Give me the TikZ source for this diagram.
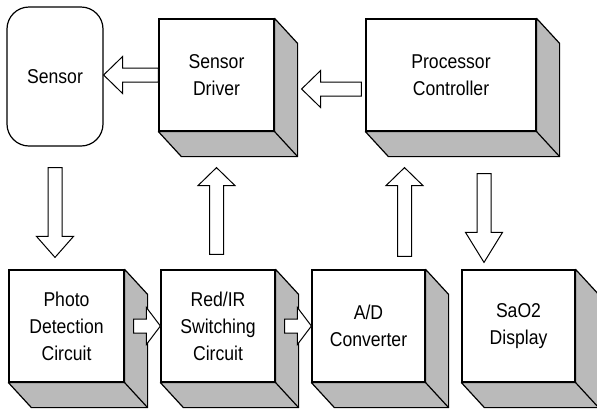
\documentclass[tikz,border=0pt]{standalone}
\usepackage{fontspec}
\setmainfont{Liberation Sans}[FakeStretch=0.88]
\usetikzlibrary{calc,positioning}

\tikzset{
  blk/.style={draw, fill=white, line width=1.2bp, align=center, inner sep=0pt,
    minimum height=112bp, font=\fontsize{20bp}{27bp}\selectfont},
  face/.style={draw, fill=black!27, line width=1.2bp, line join=round},
  hollow/.style={draw, fill=white, line width=1bp, line join=miter},
}
% hollow block arrow: \blockarrow[head length]{tail}{tip}
\newcommand{\blockarrow}[3][18bp]{%
  \path ($(#3)!#1!(#2)$) coordinate (hb);
  \draw[hollow] ($(#2)!7bp!90:(#3)$) -- ($(hb)!7bp!-90:(#2)$)
    -- ($(hb)!18.5bp!-90:(#2)$) -- (#3) -- ($(hb)!18.5bp!90:(#2)$)
    -- ($(hb)!7bp!90:(#2)$) -- ($(#2)!7bp!-90:(#3)$) -- cycle;}

\begin{document}
\begin{tikzpicture}[x=1bp, y=-1bp]
\useasboundingbox (0,0) rectangle (597,411);

% top row
\node[blk, rounded corners=22bp, minimum width=96bp, minimum height=139bp] (sensor) at (55,76.5) {Sensor};
\node[blk, minimum width=115bp] (drv) at (216.5,75) {Sensor\\Driver};
\node[blk, minimum width=170bp] (proc) at (451,75) {Processor\\Controller};

% bottom row
\node[blk, minimum width=115bp] (photo) at (66.5,326) {Photo\\Detection\\Circuit};
\node[blk, minimum width=114bp] (rir) at (218,326) {Red/IR\\Switching\\Circuit};
\node[blk, minimum width=113bp] (adc) at (368.5,326) {A/D\\Converter};
\node[blk, minimum width=113bp] (disp) at (518.5,326) {SaO2\\Display};

% shaded side and bottom faces
\foreach \n in {drv,proc,photo,rir,adc,disp}{
  \draw[face] (\n.north east) -- ++(23,25) -- ($(\n.south east)+(23,25)$)
    -- ($(\n.south west)+(23,25)$) -- (\n.south west) -- (\n.south east) -- cycle;
  \draw[line width=1.2bp] (\n.south east) -- ++(23,25);
}

% arrow ends
\coordinate (s1) at (drv.west -| sensor.east);
\coordinate (d1) at ($(proc.west)+(-4,14)$);
\coordinate (d2) at ($(drv.east)+(27,14)$);
\coordinate (v1) at ($(sensor.south)+(0,21)$);
\coordinate (v2) at ($(sensor.south |- photo.north)+(0,-12)$);
\coordinate (r1) at ($(rir.north)+(-1.5,-15)$);
\coordinate (r2) at ($(drv.south)+(0,36)$);
\coordinate (a1) at ($(adc.north)+(36,-13)$);
\coordinate (a2) at ($(proc.south)+(-46.5,36)$);
\coordinate (p1) at ($(proc.south)+(33,42)$);
\coordinate (p2) at ($(disp.north)+(-34.5,-7)$);
\coordinate (h1) at ($(photo.east)+(9,0)$);
\coordinate (h2) at ($(rir.east)+(9,0)$);

\blockarrow[19bp]{drv.west}{s1}
\blockarrow[19bp]{d1}{d2}
\blockarrow[21bp]{v1}{v2}
\blockarrow{r1}{r2}
\blockarrow{a1}{a2}
\blockarrow[30bp]{p1}{p2}
\blockarrow[14bp]{h1}{rir.west}
\blockarrow[14bp]{h2}{adc.west}
\end{tikzpicture}
\end{document}
